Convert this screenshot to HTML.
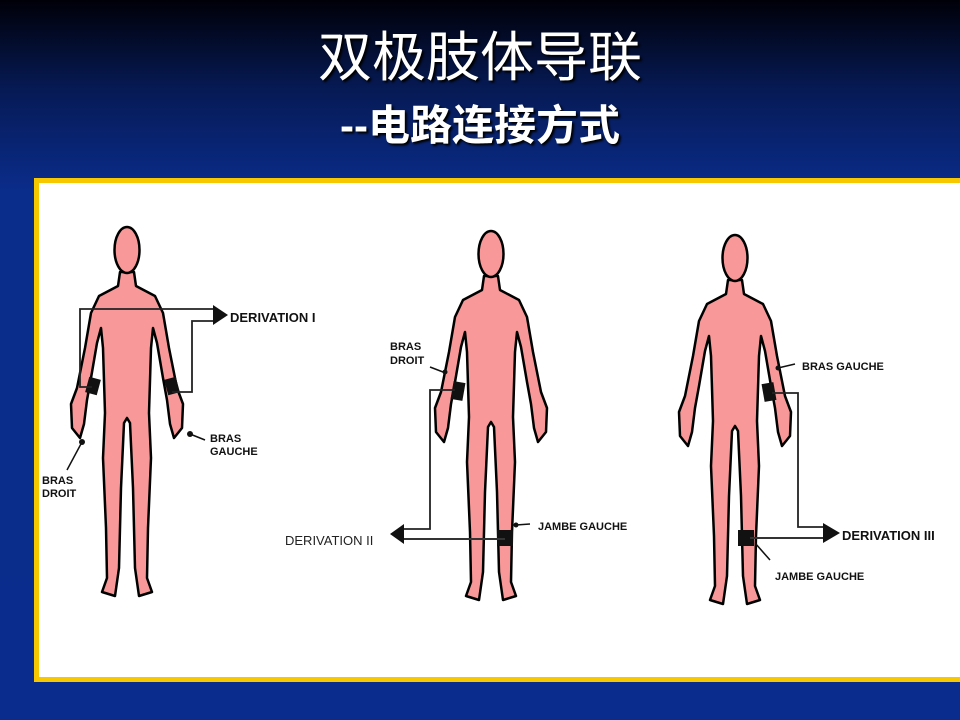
<!DOCTYPE html>
<html><head><meta charset="utf-8"><style>
html,body{margin:0;padding:0;width:960px;height:720px;overflow:hidden}
body{background:linear-gradient(to bottom,#000008 0px,#061a55 90px,#0a2c8a 190px,#0a2c8c 720px);font-family:"Liberation Sans","Noto Sans CJK SC",sans-serif;position:relative}
.t1{position:absolute;left:0;width:960px;top:26px;text-align:center;color:#fff;font-size:54px;line-height:64px;font-family:"Liberation Sans","Noto Sans CJK SC",sans-serif;text-shadow:2px 2px 2px #000}
.t2{position:absolute;left:0;width:960px;top:100px;text-align:center;color:#fff;font-size:42px;line-height:52px;font-weight:bold;font-family:"Liberation Sans","Noto Sans CJK SC",sans-serif;text-shadow:2px 2px 2px #000}
.box{position:absolute;left:34px;top:178px;width:940px;height:494px;border:5px solid #f7c800;background:#fff;box-sizing:content-box}
svg{position:absolute;left:0;top:0}
</style></head><body>
<div class="t1">双极肢体导联</div>
<div class="t2">--电路连接方式</div>
<div class="box"></div>
<svg width="960" height="720" viewBox="0 0 960 720">
<defs>
<g id="body">
<path d="M-7,44 L-9,58 L-28,68 L-36,85 L-42,120 L-48,150 L-50,160 L-56,176 L-55,200 L-47,210 L-43,196 L-40,172 L-36,150 L-30,115 L-26,100 L-24,120 L-22,185 L-24,230 L-21,300 L-20,350 L-25,364 L-12,368 L-8,340 L-6,260 L-3,195 L0,190 L3,195 L6,260 L8,340 L12,368 L25,364 L20,350 L21,300 L24,230 L22,185 L24,120 L26,100 L30,115 L36,150 L40,172 L43,196 L47,210 L55,200 L56,176 L50,160 L48,150 L42,120 L36,85 L28,68 L9,58 L7,44 Z" fill="#f89898" stroke="#000" stroke-width="2.5" stroke-linejoin="round"/>
<ellipse cx="0" cy="22" rx="12.5" ry="23" fill="#f89898" stroke="#000" stroke-width="2.5"/>
</g>
</defs>
<g font-family="Liberation Sans, sans-serif" font-weight="bold" font-size="12" fill="#111">
<!-- body 1 -->
<use href="#body" transform="translate(127,228)"/>
<rect x="87" y="378" width="12" height="16" fill="#111" transform="rotate(15 93 386)"/>
<rect x="166" y="378" width="12" height="16" fill="#111" transform="rotate(-15 172 386)"/>
<polyline points="92,387 80,387 80,309 215,309" fill="none" stroke="#222" stroke-width="1.8"/>
<polyline points="172,392 192,392 192,321 215,321" fill="none" stroke="#222" stroke-width="1.8"/>
<polygon points="213,305 228,315 213,325" fill="#111"/>
<text x="230" y="322" font-size="13">DERIVATION I</text>
<circle cx="82" cy="442" r="3" fill="#111"/><line x1="82" y1="442" x2="67" y2="470" stroke="#111" stroke-width="1.5"/>
<text x="42" y="484" font-size="11">BRAS</text><text x="42" y="497" font-size="11">DROIT</text>
<circle cx="190" cy="434" r="3" fill="#111"/><line x1="190" y1="434" x2="205" y2="440" stroke="#111" stroke-width="1.5"/>
<text x="210" y="442" font-size="11">BRAS</text><text x="210" y="455" font-size="11">GAUCHE</text>
<!-- body 2 -->
<use href="#body" transform="translate(491,232)"/>
<rect x="452" y="382" width="12" height="18" fill="#111" transform="rotate(10 458 391)"/>
<rect x="497" y="530" width="16" height="16" fill="#111"/>
<polyline points="455,390 430,390 430,529 400,529" fill="none" stroke="#222" stroke-width="1.8"/>
<line x1="400" y1="539" x2="505" y2="539" stroke="#333" stroke-width="2"/>
<polygon points="404,524 390,534 404,544" fill="#111"/>
<text x="285" y="545" font-weight="normal" font-size="13" fill="#222">DERIVATION II</text>
<text x="390" y="350" font-size="11">BRAS</text><text x="390" y="364" font-size="11">DROIT</text>
<line x1="430" y1="367" x2="443" y2="372" stroke="#111" stroke-width="1.5"/><circle cx="445" cy="372" r="2.5" fill="#111"/>
<circle cx="516" cy="525" r="2.5" fill="#111"/><line x1="516" y1="525" x2="530" y2="524" stroke="#111" stroke-width="1.5"/>
<text x="538" y="530" font-size="11">JAMBE GAUCHE</text>
<!-- body 3 -->
<use href="#body" transform="translate(735,236)"/>
<rect x="763" y="383" width="12" height="18" fill="#111" transform="rotate(-10 769 392)"/>
<rect x="738" y="530" width="16" height="16" fill="#111"/>
<polyline points="772,393 798,393 798,527 825,527" fill="none" stroke="#222" stroke-width="1.8"/>
<line x1="750" y1="538" x2="825" y2="538" stroke="#333" stroke-width="2"/>
<polygon points="823,523 840,533 823,543" fill="#111"/>
<text x="842" y="540" font-size="13">DERIVATION III</text>
<circle cx="778" cy="368" r="2.5" fill="#111"/><line x1="778" y1="368" x2="795" y2="364" stroke="#111" stroke-width="1.5"/>
<text x="802" y="370" font-size="11">BRAS GAUCHE</text>
<line x1="755" y1="543" x2="770" y2="560" stroke="#111" stroke-width="1.5"/>
<text x="775" y="580" font-size="11">JAMBE GAUCHE</text>
</g>
</svg>
</body></html>
